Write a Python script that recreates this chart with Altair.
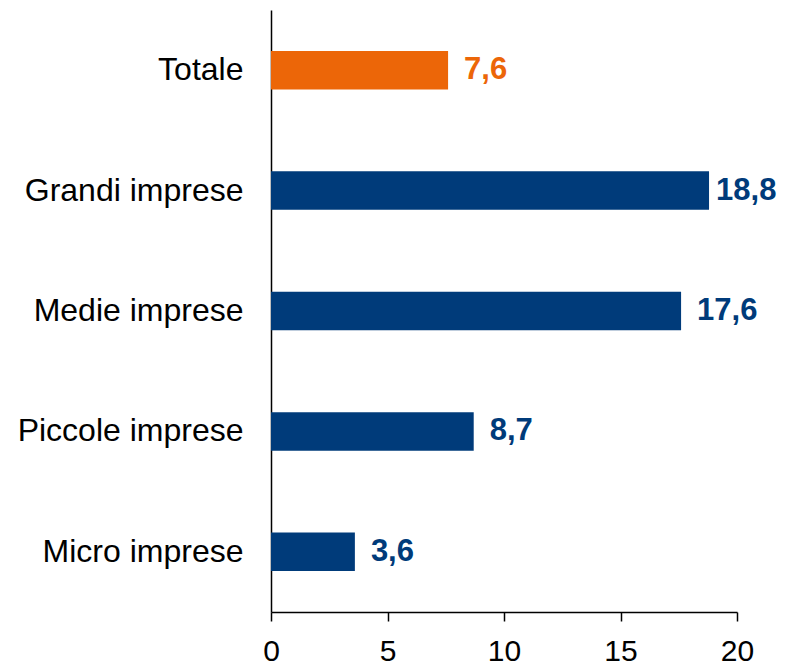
import altair as alt
import pandas as pd

categories = ["Totale", "Grandi imprese", "Medie imprese", "Piccole imprese", "Micro imprese"]
values = [7.6, 18.8, 17.6, 8.7, 3.6]
groups = ["totale", "classe", "classe", "classe", "classe"]

df = pd.DataFrame({"cat": categories, "value": values, "group": groups})

FONT = "Liberation Sans"
color_scale = alt.Scale(domain=["totale", "classe"], range=["#EC6608", "#003B7A"])

y = alt.Y("cat:N", sort=categories,
          scale=alt.Scale(paddingInner=0.68, paddingOuter=0.34),
          axis=alt.Axis(title=None, ticks=False, labelPadding=28, labelFontSize=32,
                        labelFont=FONT, labelColor="black", domainColor="black",
                        domainWidth=1.5, labelLimit=400, grid=False))
x = alt.X("value:Q", scale=alt.Scale(domain=[0, 20]),
          axis=alt.Axis(title=None, values=[0, 5, 10, 15, 20], grid=False, tickSize=9,
                        tickColor="black", tickWidth=1.5, domainColor="black",
                        domainWidth=1.5, labelFontSize=30, labelFont=FONT,
                        labelColor="black", labelPadding=15, labelFlush=False))

base = alt.Chart(df)
bars = base.mark_bar().encode(y=y, x=x, color=alt.Color("group:N", scale=color_scale, legend=None))

txt = base.transform_calculate(
    label="replace(format(datum.value, '.1f'), '.', ',')"
)
enc = dict(y=alt.Y("cat:N", sort=categories),
           x=alt.X("value:Q"),
           text="label:N",
           color=alt.Color("group:N", scale=color_scale, legend=None))
labels_a = txt.transform_filter("datum.value < 18").mark_text(
    align="left", baseline="middle", dx=16, font=FONT, fontSize=31, fontWeight="bold"
).encode(**enc)
labels_b = txt.transform_filter("datum.value >= 18").mark_text(
    align="left", baseline="middle", dx=7, font=FONT, fontSize=31, fontWeight="bold"
).encode(**enc)

chart = (bars + labels_a + labels_b).properties(
    width=466, height=602,
    background="white",
    autosize=alt.AutoSizeParams(type="none"),
    padding={"left": 263, "top": 2, "right": 40, "bottom": 56},
).configure_axis(grid=False).configure_view(strokeWidth=0, stroke="transparent")

chart.save("out.html", embed_options={"renderer": "svg", "actions": False})
